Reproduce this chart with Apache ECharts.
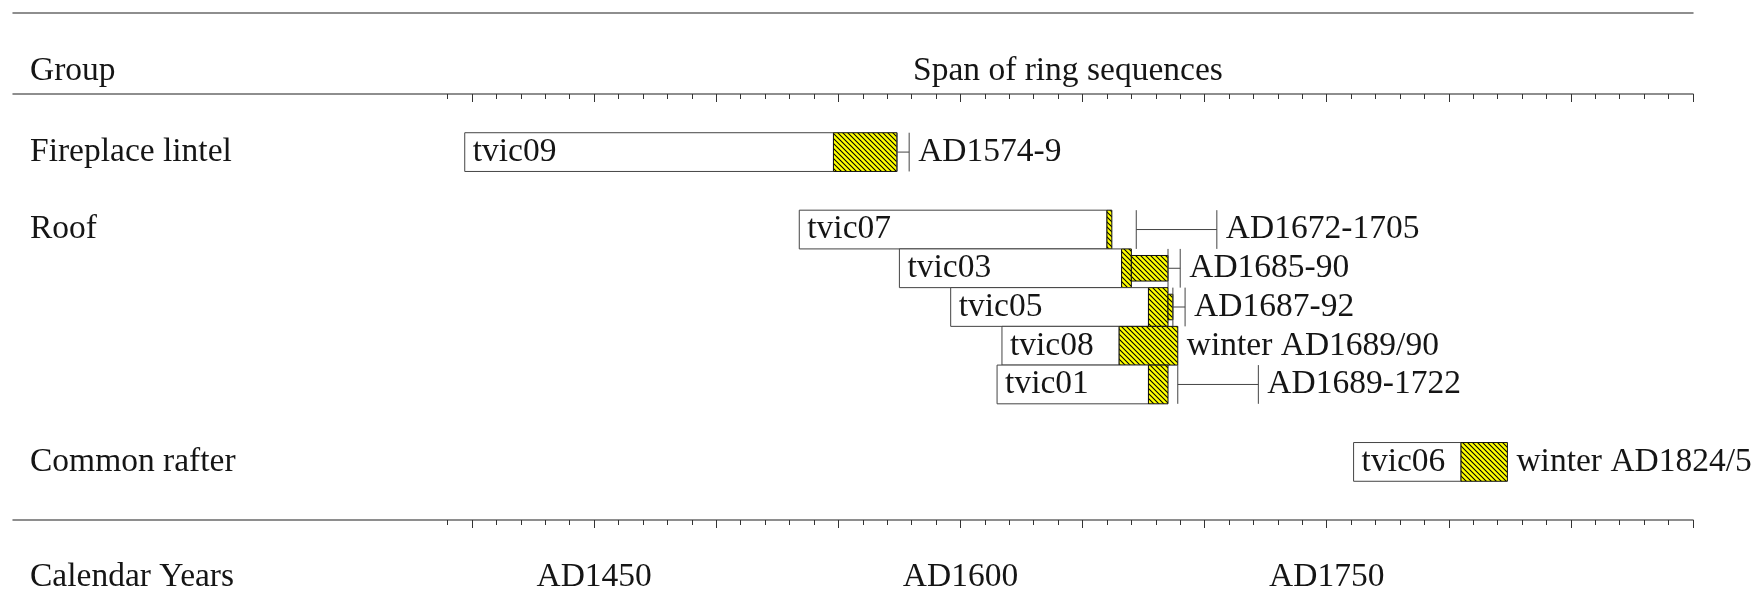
<!DOCTYPE html>
<html>
<head>
<meta charset="utf-8">
<title>Span of ring sequences</title>
<script src="https://cdn.jsdelivr.net/npm/echarts@6/dist/echarts.min.js"></script>
<style>
  html, body { margin: 0; padding: 0; background: #fff; }
  #chart { width: 1762px; height: 597px; }
</style>
</head>
<body>
<div id="chart"></div>
<script>
// groups and the row (slot) they start on
const groups = ['Fireplace lintel', 'Roof', 'Common rafter']
const groupRows = [0, 2, 8]

// samples, one bar each
const samples = ['tvic09', 'tvic07', 'tvic03', 'tvic05', 'tvic08', 'tvic01', 'tvic06']
const rows = [0, 2, 3, 4, 5, 6, 8]
const firstRing = [1397, 1534, 1575, 1596, 1617, 1615, 1761]
const sapStart = [1548, 1660, 1666, 1677, 1665, 1677, 1805]
const lastRing = [1574, 1662, 1670, 1685, 1689, 1685, 1824]
const unmeasuredEnd = [null, null, 1685, 1687, null, null, null]
const fellFrom = [1574, 1672, 1685, 1687, null, 1689, null]
const fellTo = [1579, 1705, 1690, 1692, null, 1722, null]
const dateLabels = ['AD1574-9', 'AD1672-1705', 'AD1685-90', 'AD1687-92',
  'winter AD1689/90', 'AD1689-1722', 'winter AD1824/5']

// axis ticks
const yearLabels = [1450, 1600, 1750]
const minorTicks = []
for (let y = 1390; y <= 1900; y += 10) minorTicks.push(y)
const majorTicks = []
for (let y = 1400; y <= 1900; y += 50) majorTicks.push(y)

const FONT = 'Liberation Serif'
const FS = 33.5
const TEXT = '#151515'
const RULE = '#6a6a6a'

// yellow tile with black "\" stripes
const tile = document.createElement('canvas')
tile.width = 5
tile.height = 5
const tc = tile.getContext('2d')
tc.fillStyle = '#ffff00'
tc.fillRect(0, 0, 5, 5)
tc.strokeStyle = '#000'
tc.lineWidth = 1.1
for (let k = -1; k <= 1; k++) {
  tc.beginPath()
  tc.moveTo(-1 + k * 5, -1)
  tc.lineTo(6 + k * 5, 6)
  tc.stroke()
}
const hatch = {image: tile, repeat: 'repeat'}

const chart = echarts.init(document.getElementById('chart'))

function renderBar(params, api) {
  const i = params.dataIndex
  const row = rows[i]
  const h = api.size([0, 1])[1]
  const yc = api.coord([firstRing[i], row])[1]
  const x0 = api.coord([firstRing[i], row])[0]
  const x1 = api.coord([sapStart[i], row])[0]
  const x2 = api.coord([lastRing[i], row])[0]
  const kids = []
  kids.push({
    type: 'rect',
    shape: {x: x0, y: yc - h / 2, width: x1 - x0, height: h},
    style: {fill: '#fff', stroke: '#444', lineWidth: 1}
  })
  kids.push({
    type: 'rect',
    shape: {x: x1, y: yc - h / 2, width: x2 - x1, height: h},
    style: {fill: hatch, stroke: '#111', lineWidth: 1}
  })
  let xEnd = x2
  // counted but unmeasured sapwood, drawn thinner
  if (unmeasuredEnd[i] != null) {
    const x3 = api.coord([unmeasuredEnd[i], row])[0]
    kids.push({
      type: 'rect',
      shape: {x: x2, y: yc - h * 0.33, width: x3 - x2, height: h * 0.66},
      style: {fill: hatch, stroke: '#111', lineWidth: 1}
    })
    xEnd = Math.max(xEnd, x3)
  }
  // felling date range
  if (fellFrom[i] != null) {
    const fa = api.coord([fellFrom[i], row])[0]
    const fb = api.coord([fellTo[i], row])[0]
    const ls = {stroke: '#444', lineWidth: 1}
    kids.push({type: 'line', shape: {x1: fa, y1: yc, x2: fb, y2: yc}, style: ls})
    kids.push({type: 'line', shape: {x1: fa, y1: yc - h / 2, x2: fa, y2: yc + h / 2}, style: ls})
    kids.push({type: 'line', shape: {x1: fb, y1: yc - h / 2, x2: fb, y2: yc + h / 2}, style: ls})
    xEnd = Math.max(xEnd, fb)
  }
  kids.push({
    type: 'text',
    style: {
      text: samples[i], x: x0 + 8, y: yc,
      verticalAlign: 'middle', fill: TEXT, fontFamily: FONT, fontSize: FS
    }
  })
  kids.push({
    type: 'text',
    style: {
      text: dateLabels[i], x: xEnd + 9, y: yc,
      verticalAlign: 'middle', fill: TEXT, fontFamily: FONT, fontSize: FS
    }
  })
  return {type: 'group', children: kids}
}

const hidden = {show: false}
const xBase = {type: 'value', min: 1212, max: 1900, splitLine: hidden}
const titleStyle = {fontFamily: FONT, fontSize: FS, fontWeight: 'normal', color: TEXT}

const option = {
  animation: false,
  title: [
    {text: 'Group', left: 30, top: 54, padding: 0, textStyle: titleStyle},
    {text: 'Span of ring sequences', left: 913, top: 54, padding: 0, textStyle: titleStyle},
    {text: 'Calendar Years', left: 30, top: 560, padding: 0, textStyle: titleStyle}
  ],
  grid: {left: 13, right: 69, top: 94, bottom: 77},
  xAxis: [
    Object.assign({}, xBase, {
      position: 'bottom',
      axisLine: {show: true, onZero: false, lineStyle: {color: RULE, width: 1.5}},
      axisTick: {show: true, customValues: minorTicks, length: 5, lineStyle: {color: '#333'}},
      axisLabel: {
        show: true, customValues: yearLabels, formatter: v => 'AD' + v,
        margin: 57, verticalAlign: 'middle',
        fontFamily: FONT, fontSize: FS, color: TEXT
      }
    }),
    Object.assign({}, xBase, {
      position: 'bottom',
      axisLine: {show: false, onZero: false}, axisLabel: hidden,
      axisTick: {show: true, customValues: majorTicks, length: 8, lineStyle: {color: '#333'}}
    }),
    Object.assign({}, xBase, {
      position: 'top',
      axisLine: {show: true, onZero: false, lineStyle: {color: RULE, width: 1.5}},
      axisLabel: hidden,
      axisTick: {show: true, inside: true, customValues: minorTicks, length: 5, lineStyle: {color: '#333'}}
    }),
    Object.assign({}, xBase, {
      position: 'top',
      axisLine: {show: false, onZero: false}, axisLabel: hidden,
      axisTick: {show: true, inside: true, customValues: majorTicks, length: 8, lineStyle: {color: '#333'}}
    }),
    Object.assign({}, xBase, {
      position: 'top', offset: 81,
      axisLine: {show: true, onZero: false, lineStyle: {color: RULE, width: 1.5}},
      axisTick: hidden, axisLabel: hidden
    })
  ],
  yAxis: {
    type: 'value', min: -1.5, max: 9.5, inverse: true,
    axisLine: hidden, axisTick: hidden, splitLine: hidden,
    axisLabel: {
      show: true, inside: true, customValues: groupRows,
      formatter: v => groups[groupRows.indexOf(v)],
      margin: 17, align: 'left', verticalAlign: 'middle', padding: [0, 0, 16, 0],
      fontFamily: FONT, fontSize: FS, color: TEXT
    }
  },
  series: [{
    type: 'custom',
    renderItem: renderBar,
    xAxisIndex: 0,
    clip: false,
    encode: {x: [0, 1, 2], y: 3},
    data: samples.map((s, i) => [firstRing[i], sapStart[i], lastRing[i], rows[i]])
  }]
}

chart.setOption(option)
</script>
</body>
</html>
